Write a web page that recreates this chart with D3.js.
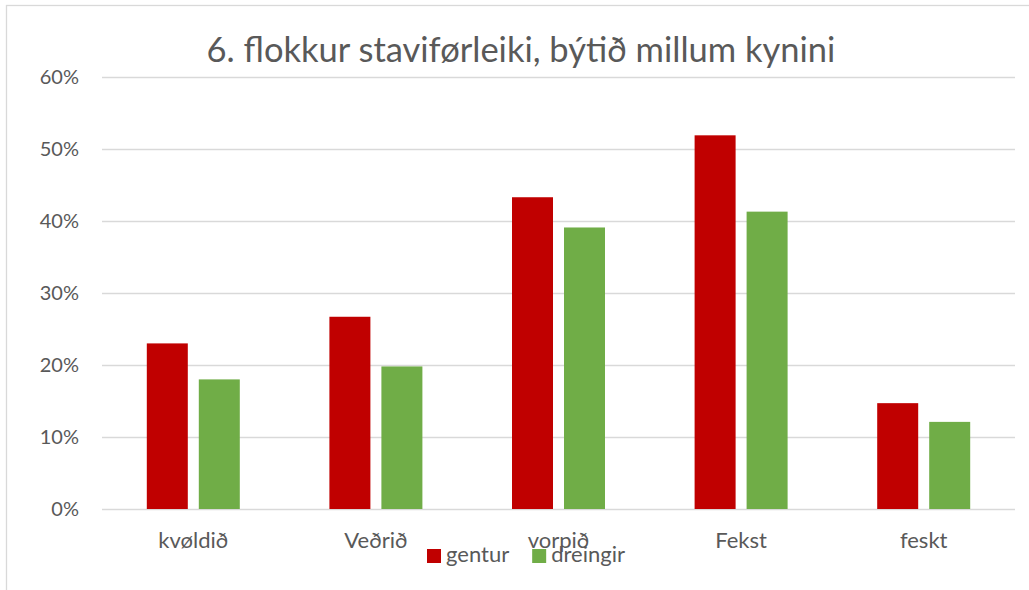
<!DOCTYPE html>
<html>
<head>
<meta charset="utf-8">
<script src="https://cdn.jsdelivr.net/npm/d3@7"></script>
<style>
  body { margin: 0; background: #fff; }
  text { font-family: Lato, "Open Sans", sans-serif; fill: #595959; }
</style>
</head>
<body>
<div id="chart"></div>
<script>
// data
var categories = ["kvøldið", "Veðrið", "vorpið", "Fekst", "feskt"];
var seriesNames = ["gentur", "dreingir"];
var gentur = [0.23, 0.267, 0.433, 0.519, 0.147];
var dreingir = [0.18, 0.198, 0.391, 0.413, 0.121];
var yTicks = [0, 0.1, 0.2, 0.3, 0.4, 0.5, 0.6];
var colors = ["#C00000", "#70AD47"];
var title = "6. flokkur staviførleiki, býtið millum kynini";

var width = 1029, height = 590;
var margin = { top: 77, right: 14, bottom: 81, left: 102 };

var svg = d3.select("#chart").append("svg")
    .attr("width", width)
    .attr("height", height);

// chart border
svg.append("rect")
  .attr("x", 6.5).attr("y", 5.5)
  .attr("width", 1040).attr("height", 600)
  .attr("fill", "none")
  .attr("stroke", "#d9d9d9")
  .attr("stroke-width", 1.3);

var x = d3.scaleBand()
  .domain(categories)
  .range([margin.left, width - margin.right]);

var y = d3.scaleLinear()
  .domain([0, 0.6])
  .range([height - margin.bottom, margin.top]);

// grouped bars sit in a 93px block in the middle of each band
var groupW = 93;
var x1 = d3.scaleBand()
  .domain(seriesNames)
  .range([0, groupW])
  .paddingInner(11 / 52);

// gridlines
svg.append("g")
  .attr("transform", "translate(" + margin.left + ",0)")
  .call(d3.axisLeft(y).tickValues(yTicks)
    .tickSize(-(width - margin.left - margin.right))
    .tickFormat(d3.format(".0%"))
    .tickPadding(23))
  .call(function(g) {
    g.select(".domain").remove();
    g.selectAll(".tick line").attr("stroke", "#d9d9d9").attr("stroke-width", 1.3);
    g.selectAll(".tick text").attr("font-size", 20).style("fill", "#595959")
      .attr("font-family", "Lato, sans-serif");
  });

var rows = categories.map(function(c, i) {
  return { cat: c, values: [gentur[i], dreingir[i]] };
});

var group = svg.selectAll(".grp")
    .data(rows)
  .enter().append("g")
    .attr("class", "grp")
    .attr("transform", function(d) {
      return "translate(" + (x(d.cat) + (x.bandwidth() - groupW) / 2) + ",0)"; });

group.selectAll("rect")
    .data(function(d) { return d.values.map(function(v, j) { return { s: seriesNames[j], v: v, j: j }; }); })
  .enter().append("rect")
    .attr("x", function(d) { return x1(d.s); })
    .attr("y", function(d) { return y(d.v); })
    .attr("width", x1.bandwidth())
    .attr("height", function(d) { return y(0) - y(d.v); })
    .attr("fill", function(d) { return colors[d.j]; });

// category labels
svg.selectAll(".cat")
    .data(categories)
  .enter().append("text")
    .attr("class", "cat")
    .attr("x", function(d) { return x(d) + x.bandwidth() / 2; })
    .attr("y", 548)
    .attr("text-anchor", "middle")
    .attr("font-size", 22)
    .text(function(d) { return d; });

// title
svg.append("text")
  .attr("x", 521)
  .attr("y", 62)
  .attr("text-anchor", "middle")
  .attr("font-size", 34.5)
  .text(title);

// legend
var lx = 427;
seriesNames.forEach(function(s, i) {
  svg.append("rect")
    .attr("x", lx).attr("y", 549)
    .attr("width", 14).attr("height", 14)
    .attr("fill", colors[i]);
  var t = svg.append("text")
    .attr("x", lx + 19).attr("y", 562)
    .attr("font-size", 22)
    .text(s);
  lx += 19 + t.node().getComputedTextLength() + 23;
});
</script>
</body>
</html>
